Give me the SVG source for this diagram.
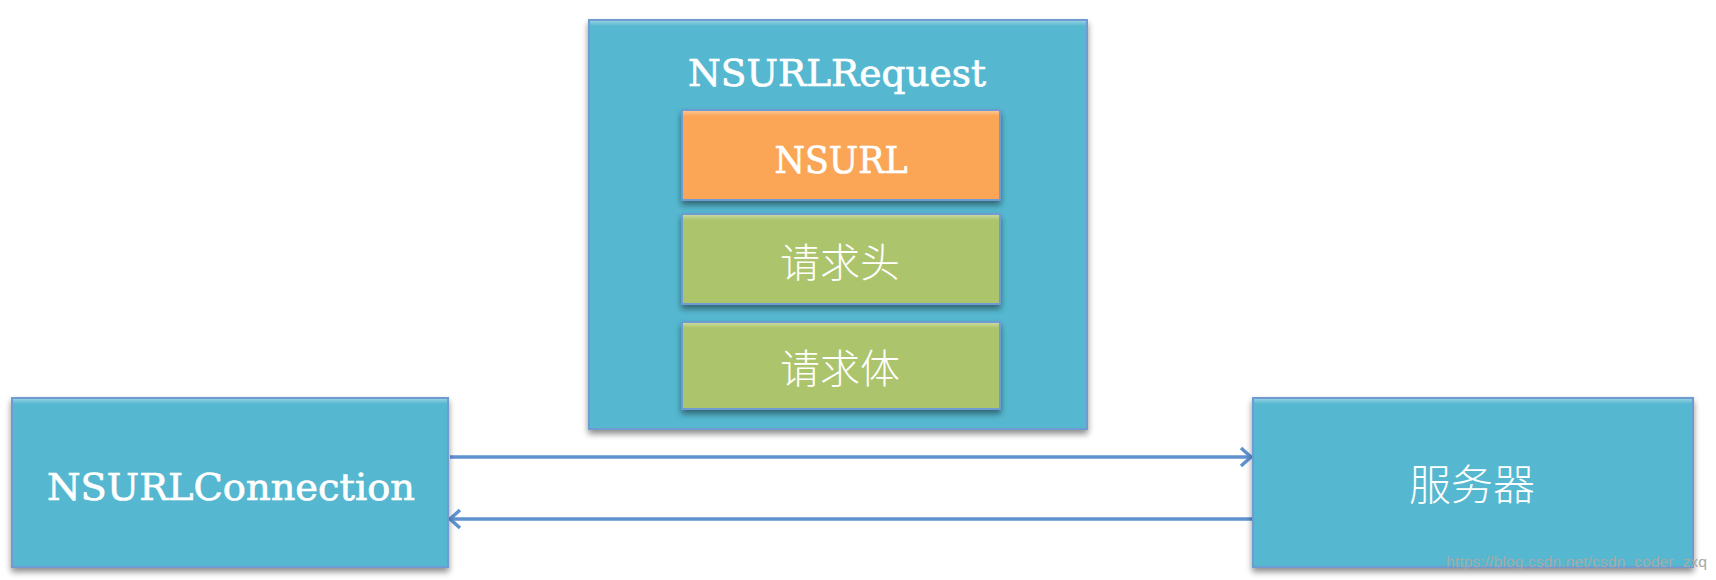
<svg xmlns="http://www.w3.org/2000/svg" width="1716" height="580" viewBox="0 0 1716 580">
<style>
.box{stroke:#6d9bd2;stroke-width:2;filter:url(#sh)}
.teal{fill:#55b8d0}
.orange{fill:#fba656}
.green{fill:#acc46c}
.lat{font-family:"DejaVu Serif","Liberation Serif",serif;fill:#fff;stroke:#fff;stroke-width:0.7;text-anchor:middle}
.cjk{font-family:"Noto Sans CJK SC","Noto Sans",sans-serif;fill:#fff;text-anchor:middle;font-weight:300}
.conn{stroke:#5f92cf;stroke-width:3.5;fill:none}
.wm{font-family:"Liberation Sans",Arial,sans-serif;fill:#a8a8a8;font-size:15px}
</style>
<defs>
<filter id="sh" x="-10%" y="-10%" width="120%" height="130%">
<feGaussianBlur in="SourceAlpha" stdDeviation="3"/>
<feOffset dy="4" result="b"/>
<feComponentTransfer><feFuncA type="linear" slope="0.45"/></feComponentTransfer>
<feMerge><feMergeNode/><feMergeNode in="SourceGraphic"/></feMerge>
</filter>
<linearGradient id="hl" x1="0" y1="0" x2="0" y2="1">
<stop offset="0" stop-color="#fff" stop-opacity="0.35"/>
<stop offset="1" stop-color="#fff" stop-opacity="0"/>
</linearGradient>
<marker id="ah" markerWidth="16" markerHeight="22" refX="13" refY="11" orient="auto" markerUnits="userSpaceOnUse">
<path d="M3,2 L13,11 L3,20" fill="none" stroke="#5f92cf" stroke-width="3.5"/>
</marker>
</defs>
<rect width="1716" height="580" fill="#fff"/>
<g id="connectors">
<line class="conn" x1="450" y1="457" x2="1251" y2="457" marker-end="url(#ah)"/>
<line class="conn" x1="1253" y1="519" x2="450" y2="519" marker-end="url(#ah)"/>
</g>
<g id="nsurlrequest">
<rect class="box teal" x="589" y="20" width="498" height="409"/>
<rect x="590" y="21" width="496" height="5" fill="url(#hl)"/>
<text class="lat" x="837" y="86" font-size="38" textLength="298" lengthAdjust="spacingAndGlyphs">NSURLRequest</text>
</g>
<g id="nsurl">
<rect class="box orange" x="682" y="110" width="318" height="90"/>
<rect x="683" y="111" width="316" height="5" fill="url(#hl)"/>
<text class="lat" x="841" y="173" font-size="38" textLength="133" lengthAdjust="spacingAndGlyphs">NSURL</text>
</g>
<g id="header">
<rect class="box green" x="682" y="214" width="318" height="90"/>
<rect x="683" y="215" width="316" height="5" fill="url(#hl)"/>
<text class="cjk" x="840" y="277" font-size="40">请求头</text>
</g>
<g id="body">
<rect class="box green" x="682" y="322" width="318" height="87"/>
<rect x="683" y="323" width="316" height="5" fill="url(#hl)"/>
<text class="cjk" x="840" y="383" font-size="40">请求体</text>
</g>
<g id="nsurlconnection">
<rect class="box teal" x="12" y="398" width="436" height="169"/>
<rect x="13" y="399" width="434" height="5" fill="url(#hl)"/>
<text class="lat" x="231" y="500" font-size="38" textLength="368" lengthAdjust="spacingAndGlyphs">NSURLConnection</text>
</g>
<g id="server">
<rect class="box teal" x="1253" y="398" width="440" height="169"/>
<rect x="1254" y="399" width="438" height="5" fill="url(#hl)"/>
<text class="cjk" x="1472" y="500" font-size="42">服务器</text>
</g>
<text class="wm" x="1446" y="567" textLength="261" lengthAdjust="spacingAndGlyphs">https://blog.csdn.net/csdn_coder_zxq</text>
</svg>
